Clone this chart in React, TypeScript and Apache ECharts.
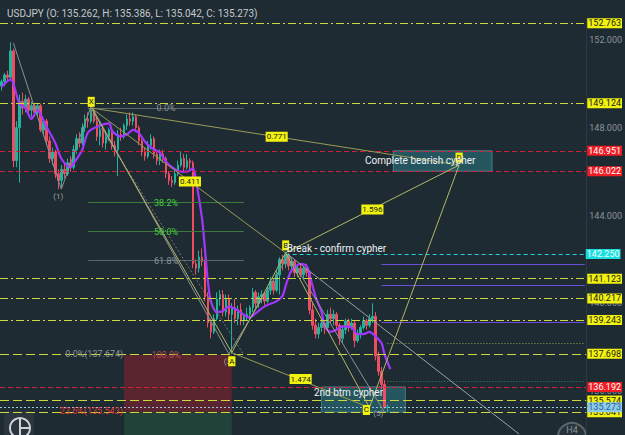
import React, { useEffect, useRef } from "react";
import * as echarts from "echarts";

const FONT = "Roboto, 'Noto Sans', Arial, sans-serif";
const TITLE = "USDJPY (O: 135.262, H: 135.386, L: 135.042, C: 135.273)";
const SLOTS = 196;
const categories = Array.from({ length: SLOTS }, (_, i) => String(i));

// O, H, L, C  (H4 candles)
const candles: [number, number, number, number][] = [
  [149.9, 150.2, 149.7, 150.1], [150.1, 150.5, 149.9, 150.4], [150.4, 150.6, 150.1, 150.3], [150.3, 151.9, 150.2, 151.5],
  [151.5, 151.6, 146.2, 146.5], [146.5, 148.3, 146.2, 148.0], [148.0, 149.5, 145.5, 149.2], [149.2, 149.6, 148.6, 148.9],
  [148.9, 149.5, 148.7, 149.3], [149.3, 149.4, 148.6, 148.8], [148.8, 149.2, 148.5, 149.0], [149.0, 149.1, 148.5, 148.7],
  [148.7, 149.1, 148.5, 149.0], [149.0, 149.1, 147.8, 147.9], [147.9, 148.4, 147.6, 148.3], [148.3, 148.4, 147.2, 147.4],
  [147.4, 147.6, 146.4, 146.6], [146.6, 147.1, 146.3, 146.9], [146.9, 147.0, 145.7, 145.9], [145.9, 146.1, 145.2, 145.6],
  [145.6, 146.3, 145.3, 146.1], [146.1, 146.4, 145.7, 145.9], [145.9, 146.6, 145.8, 146.4], [146.4, 146.7, 146.0, 146.2],
  [146.2, 147.2, 146.1, 147.0], [147.0, 147.7, 146.8, 147.5], [147.5, 147.8, 147.1, 147.3], [147.3, 148.2, 147.2, 148.0],
  [148.0, 148.6, 147.8, 148.4], [148.4, 148.7, 148.0, 148.3], [148.3, 148.95, 148.2, 148.8], [148.8, 148.9, 148.2, 148.3],
  [148.3, 148.5, 147.4, 147.6], [147.6, 148.2, 147.2, 147.9], [147.9, 148.1, 147.1, 147.3], [147.3, 147.8, 147.0, 147.6],
  [147.6, 148.0, 147.4, 147.9], [147.9, 148.0, 147.0, 147.2], [147.2, 147.4, 146.7, 147.0], [147.0, 147.9, 145.8, 147.7],
  [147.7, 148.0, 147.4, 147.6], [147.6, 148.2, 147.5, 148.1], [148.1, 148.6, 147.9, 148.4], [148.4, 148.7, 148.1, 148.3],
  [148.3, 148.7, 148.1, 148.5], [148.5, 148.6, 147.8, 148.0], [148.0, 148.1, 147.2, 147.4], [147.4, 147.5, 146.7, 146.9],
  [146.9, 147.1, 146.5, 146.7], [146.7, 147.4, 146.6, 147.2], [147.2, 147.7, 147.0, 147.5], [147.5, 147.6, 146.6, 146.8],
  [146.8, 147.0, 146.3, 146.5], [146.5, 147.0, 146.3, 146.8], [146.8, 147.0, 146.4, 146.6], [146.6, 146.7, 145.7, 145.9],
  [145.9, 146.0, 145.4, 145.6], [145.6, 145.8, 145.3, 145.5], [145.5, 146.1, 145.4, 145.9], [145.9, 146.5, 145.8, 146.3],
  [146.3, 146.9, 146.2, 146.6], [146.6, 146.8, 146.0, 146.2], [146.2, 146.8, 146.1, 146.5], [146.5, 146.6, 146.0, 146.4],
  [146.4, 146.5, 141.6, 141.8], [141.8, 142.0, 141.3, 141.6], [141.6, 142.4, 141.4, 142.1], [142.1, 142.5, 141.7, 141.9],
  [141.9, 142.0, 140.1, 140.3], [140.3, 140.5, 138.9, 139.1], [139.1, 139.3, 138.4, 138.7], [138.7, 139.5, 138.6, 139.3],
  [139.3, 140.5, 139.2, 140.2], [140.2, 140.6, 139.9, 140.4], [140.4, 140.6, 139.4, 139.6], [139.6, 140.4, 139.4, 140.2],
  [140.2, 140.4, 139.2, 139.5], [139.5, 140.0, 137.7, 139.8], [139.8, 140.2, 139.1, 139.3], [139.3, 139.9, 139.0, 139.7],
  [139.7, 140.0, 139.0, 139.2], [139.2, 139.5, 139.0, 139.4], [139.4, 139.8, 139.2, 139.5], [139.5, 139.9, 139.3, 139.8],
  [139.8, 140.7, 139.6, 140.5], [140.5, 140.6, 139.8, 140.0], [140.0, 140.5, 139.8, 140.3], [140.3, 140.6, 140.0, 140.4],
  [140.4, 140.5, 139.9, 140.1], [140.1, 140.8, 140.0, 140.6], [140.6, 141.2, 140.4, 141.0], [141.0, 141.1, 140.4, 140.6],
  [140.6, 141.5, 140.5, 141.3], [141.3, 142.1, 140.4, 142.0], [142.0, 142.2, 141.5, 141.8], [141.8, 142.35, 141.6, 142.2],
  [142.2, 142.3, 141.5, 141.7], [141.7, 142.1, 141.4, 141.9], [141.9, 142.0, 141.2, 141.4], [141.4, 141.8, 141.2, 141.6],
  [141.6, 141.8, 141.2, 141.3], [141.3, 141.7, 141.1, 141.6], [141.6, 141.8, 141.2, 141.4], [141.4, 141.5, 139.5, 139.7],
  [139.7, 140.0, 138.8, 139.0], [139.0, 139.3, 138.4, 138.6], [138.6, 139.1, 138.4, 138.9], [138.9, 139.3, 138.7, 139.1],
  [139.1, 139.2, 138.6, 138.9], [138.9, 139.7, 138.8, 139.5], [139.5, 139.8, 139.1, 139.3], [139.3, 139.7, 139.0, 139.5],
  [139.5, 139.6, 138.8, 139.0], [139.0, 139.1, 138.1, 138.4], [138.4, 139.0, 138.2, 138.8], [138.8, 139.3, 138.6, 139.2],
  [139.2, 139.3, 138.7, 138.9], [138.9, 139.3, 138.8, 139.1], [139.1, 139.2, 138.0, 138.3], [138.3, 138.8, 138.2, 138.6],
  [138.6, 139.0, 138.4, 138.9], [138.9, 139.4, 138.8, 139.2], [139.2, 139.3, 138.8, 139.0], [139.0, 139.5, 138.9, 139.3],
  [139.3, 140.0, 139.1, 139.4], [139.4, 139.6, 137.4, 137.6], [137.6, 137.8, 136.7, 136.9], [136.9, 137.1, 136.1, 136.3],
  [136.3, 136.5, 135.2, 135.262], [135.262, 135.386, 135.042, 135.273],
];

// purple moving-average line: [slot, price]
const maLine: [number, number][] = [
  [0, 149.86], [3, 150.2], [6, 149.1], [8, 148.9], [10, 148.4], [12, 148.8], [15, 148.05], [18, 147.3], [20, 146.6],
  [23, 146.2], [24, 146.35], [27, 147.0], [29, 147.8], [33, 148.1], [36, 148.2], [37, 147.85], [40, 147.6], [42, 147.7],
  [44, 147.9], [46, 147.75], [48, 147.36], [50, 147.1], [53, 146.86], [55, 146.45], [57, 146.2], [60, 146.0], [62, 146.0],
  [64, 146.15], [65, 145.6], [67, 143.9], [68, 142.5], [69, 141.0], [70, 140.1], [72, 139.6], [74, 139.65], [76, 139.86],
  [78, 139.75], [82, 139.4], [83, 139.35], [85, 139.55], [88, 139.86], [92, 140.1], [94, 140.35], [95, 140.8], [97, 141.5],
  [100, 141.8], [102, 141.7], [103, 141.3], [105, 140.3], [107, 139.6], [108, 139.0], [110, 138.7], [112, 138.8],
  [114, 138.95], [117, 138.9], [119, 138.6], [121, 138.6], [123, 138.7], [125, 138.5], [127, 138.2], [128, 137.7], [130, 137.0],
];

// horizontal levels
const yellowDashDot = [152.763, 149.124, 141.123, 140.217, 139.243];
const yellowDashed = [137.698, 135.574, 135.041];
const redLevels = [146.951, 146.022, 136.192];
const cyanLevel = 142.25;
const lastPrice = 135.273;
const purpleLevels = [141.77, 140.82, 139.14];
const dottedYellow = 138.17;
const dottedGreen = 136.47;

// fib retracement X -> A
const fibLevels = [148.91, 144.59, 143.27, 141.95];
const fibTexts = ["0.0%", "38.2%", "50.0%", "61.8%"];

// cypher pattern points [slot, price]
const X: [number, number] = [30, 148.9];
const A: [number, number] = [77, 137.75];
const B: [number, number] = [95, 142.3];
const C: [number, number] = [123, 135.25];
const D: [number, number] = [153, 146.3];
const ratios = ["0.411", "1.474", "1.596", "0.771"];
// elliott wave points
const waves: [number, number][] = [[4, 151.85], [20, 145.2], [30, 149.0], [76, 137.7], [96, 142.2], [128, 135.05]];

export default function App() {
  const ref = useRef<HTMLDivElement>(null);
  useEffect(() => {
    if (!ref.current) return;
    const chart = echarts.init(ref.current, undefined, { renderer: "svg" });

    const tag = (bg: string, fg: string, size = 8) => ({
      show: true, position: "inside", color: fg, backgroundColor: bg, padding: [1, 1, 0, 1],
      fontSize: size, fontFamily: FONT, lineHeight: size + 1,
    });
    const txt = (fg: string, size = 9) => ({ show: true, position: "inside", color: fg, fontSize: size, fontFamily: FONT });
    const pt = (coord: [number, number], text: string, label: any) => ({
      coord, symbol: "circle", symbolSize: 1, itemStyle: { color: "rgba(0,0,0,0)" },
      label: { ...label, formatter: text },
    });
    const levelLabel = (v: number, bg: string, fg: string) => ({
      show: true, position: "end", distance: 1, formatter: v.toFixed(3), color: fg, backgroundColor: bg,
      padding: [1, 1, 0, 1], fontSize: 9, fontFamily: FONT, lineHeight: 9,
    });
    const seg = (p: [number, number], q: [number, number], ls: any) => [
      { coord: p, lineStyle: ls, label: { show: false } }, { coord: q },
    ];

    const levelData: any[] = [
      ...purpleLevels.map((v) => seg([127, v], [SLOTS - 1, v], { color: "#6a4fd6", width: 1, type: "solid" })),
      seg([129, dottedYellow], [SLOTS - 1, dottedYellow], { color: "#9ea24a", width: 1, type: [1, 2] }),
      seg([129, dottedGreen], [SLOTS - 1, dottedGreen], { color: "#2f8f55", width: 1, type: [1, 2] }),
      ...fibLevels.map((v, i) => seg([29, v], [81, v], { color: i === 1 || i === 2 ? "#3f7a3a" : "#5d666b", width: 1, type: "solid" })),
      ...yellowDashDot.map((v) => ({ yAxis: v, lineStyle: { color: "#cdd83a", width: 1, type: [8, 3, 2, 3] }, label: levelLabel(v, "#f2f20f", "#1a1a1a") })),
      ...redLevels.map((v) => ({ yAxis: v, lineStyle: { color: "#d41f3c", width: 1, type: [5, 3] }, label: levelLabel(v, "#f21d24", "#ffffff") })),
      [
        { coord: [95, cyanLevel], lineStyle: { color: "#1fd2dc", width: 1, type: [4, 3] }, label: levelLabel(cyanLevel, "#18dede", "#f4ffff") },
        { coord: [SLOTS - 1, cyanLevel] },
      ],
      ...yellowDashed.map((v) => ({ yAxis: v, lineStyle: { color: "#cdd83a", width: 1, type: [9, 4] }, label: levelLabel(v, "#f2f20f", "#1a1a1a") })),
      { yAxis: lastPrice, lineStyle: { color: "#9fc6dd", width: 1, type: [2, 2] }, label: levelLabel(lastPrice, "#8ccbec", "#2a5f8f") },
    ];

    const olive = { color: "#b4b666", width: 1, type: "solid" };
    const olive2 = { color: "#9a9b55", width: 1, type: "solid" };
    const grey = { color: "#8a9294", width: 1, type: "solid" };
    const patternData: any[] = [
      seg(waves[0], waves[1], grey), seg(waves[1], waves[2], grey), seg(waves[2], waves[3], grey),
      seg(waves[3], waves[4], grey), seg(waves[4], waves[5], grey),
      seg([29, fibLevels[0]], [81, 137.65], { color: "#6f787b", width: 1, type: [2, 2] }),
      seg([96, 142.2], [173, 134.05], { color: "#9aa1a3", width: 1, type: "solid" }),
      seg(X, A, olive), seg(A, B, olive), seg(B, C, olive), seg(C, D, olive),
      seg(X, B, olive2), seg(A, C, olive2), seg(B, D, olive), seg(X, D, olive2),
    ];

    const areas: any[] = [
      [{ coord: [41, 137.65], itemStyle: { color: "rgba(165,32,45,0.45)" } }, { coord: [77, 135.05] }],
      [{ coord: [41, 135.05], itemStyle: { color: "rgba(35,110,65,0.35)" } }, { coord: [77, 134] }],
      [{ coord: [131, 146.951], itemStyle: { color: "rgba(45,140,150,0.45)", borderColor: "rgba(90,170,180,0.6)", borderWidth: 1 } }, { coord: [164, 146.022] }],
      [{ coord: [107, 136.192], itemStyle: { color: "rgba(45,140,150,0.45)", borderColor: "rgba(90,170,180,0.6)", borderWidth: 1 } }, { coord: [135, 135.041] }],
    ];

    const yellowTag = tag("#f2f20f", "#1a1a1a", 8);
    const notes: any[] = [
      ...fibLevels.map((v, i) => pt([55, v], fibTexts[i], txt(i === 1 || i === 2 ? "#3fcf3a" : "#8c9599", 9))),
      pt([31, 137.674], "0.0%(137.674)", txt("#8c9599", 9)),
      pt([55, 137.65], "100.0%", txt("#b8434c", 9)),
      pt([30, 135.09], "23.6%(135.543)", txt("#e23434", 9)),
      pt([19, 144.86], "(1)", txt("#9aa2a5", 8)),
      pt([76, 137.36], "(3)", txt("#9aa2a5", 8)),
      pt([126, 135.0], "(5)", txt("#9aa2a5", 8)),
      pt([63, 145.55], ratios[0], yellowTag),
      pt([100, 136.55], ratios[1], yellowTag),
      pt([124, 144.27], ratios[2], yellowTag),
      pt([92, 147.59], ratios[3], yellowTag),
      pt([30, 149.18], "X", yellowTag),
      pt([77, 137.36], "A", yellowTag),
      pt([95, 142.64], "B", yellowTag),
      pt([122, 135.14], "C", yellowTag),
      pt([153, 146.64], "D", yellowTag),
      pt([140, 146.5], "Complete bearish cypher", txt("#eef2f3", 10)),
      pt([116, 135.95], "2nd btm cypher", txt("#eef2f3", 10)),
      pt([112, 142.5], "Break - confirm cypher", txt("#eef2f3", 10)),
    ];

    chart.setOption({
      animation: false,
      backgroundColor: "#1f2b33",
      textStyle: { fontFamily: FONT },
      title: { text: TITLE, left: 2, top: 3, textStyle: { color: "#c4c9cc", fontSize: 10, fontWeight: "normal", fontFamily: FONT } },
      grid: { left: 0, right: 38, top: 18, bottom: -1 },
      xAxis: {
        type: "category", data: categories, boundaryGap: true,
        axisLine: { show: false }, axisTick: { show: false }, axisLabel: { show: false }, splitLine: { show: false },
      },
      yAxis: {
        type: "value", position: "right", min: 134, max: 153, interval: 2,
        axisLine: { show: true, lineStyle: { color: "#2c3941" } }, axisTick: { show: false },
        splitLine: { show: false },
        axisLabel: { color: "#8b949a", fontSize: 9, margin: 3, fontFamily: FONT, formatter: (v: number) => (v % 4 === 0 ? v.toFixed(3) : "") },
      },
      series: [
        {
          type: "candlestick", name: "USDJPY", barWidth: 2,
          data: candles.map(([o, h, l, c]) => [o, c, l, h]),
          itemStyle: { color: "#22b39c", color0: "#ee4d62", borderColor: "#22b39c", borderColor0: "#ee4d62", borderWidth: 1 },
        },
        {
          type: "line", name: "MA", data: maLine, showSymbol: false, smooth: 0.3, z: 3,
          lineStyle: { color: "#a235ff", width: 2.2 },
        },
        {
          type: "line", name: "levels", data: [], z: 4,
          markLine: { silent: true, symbol: ["none", "none"], data: levelData },
        },
        {
          type: "line", name: "pattern", data: [], z: 5,
          markArea: { silent: true, data: areas },
          markLine: { silent: true, symbol: ["none", "none"], data: patternData },
          markPoint: { silent: true, data: notes },
        },
      ],
      graphic: [
        { type: "rect", shape: { x: 4, y: 411, width: 30, height: 30, r: 5 }, style: { fill: "#2a353d" } },
        { type: "circle", shape: { cx: 20, cy: 428, r: 10 }, style: { fill: "none", stroke: "#cfd3d6", lineWidth: 2 } },
        { type: "line", shape: { x1: 20, y1: 418, x2: 20, y2: 438 }, style: { stroke: "#cfd3d6", lineWidth: 2 } },
        { type: "line", shape: { x1: 20, y1: 428, x2: 30, y2: 428 }, style: { stroke: "#cfd3d6", lineWidth: 2 } },
        { type: "circle", shape: { cx: 572, cy: 437, r: 14 }, style: { fill: "#27323a", stroke: "#5c666c", lineWidth: 2 } },
        { type: "text", x: 572, y: 430, style: { text: "H4", fill: "#8d959a", fontSize: 9, fontFamily: FONT, align: "center", verticalAlign: "middle" } },
      ],
    });
    return () => chart.dispose();
  }, []);
  return <div ref={ref} style={{ position: "fixed", left: 0, top: 0, width: 625, height: 435 }} />;
}
